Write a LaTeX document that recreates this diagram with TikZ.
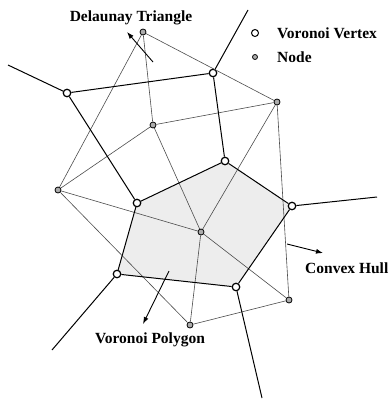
\documentclass[tikz,border=0pt]{standalone}
\usepackage{fontspec}
\setmainfont{Liberation Serif}
\usetikzlibrary{backgrounds, arrows.meta}

\tikzset{
  vvertex/.style={circle, draw, line width=1.2pt, fill=white, inner sep=0pt, minimum size=7.5pt},
  site/.style={circle, draw, line width=0.8pt, fill=gray!65, inner sep=0pt, minimum size=6pt},
  voronoi/.style={line width=1pt},
  delaunay/.style={line width=0.6pt, black!70},
  label/.style={font=\fontsize{15.5}{18}\selectfont\bfseries, inner sep=0pt},
  pointer/.style={-{Latex[length=7pt, width=5pt]}, line width=0.9pt}
}

\begin{document}
\begin{tikzpicture}[x=1pt, y=-1pt]
  \useasboundingbox (0,0) rectangle (391,399);

  % Nodes
  \node[site] (n1) at (143,32) {};
  \node[site] (n2) at (277,102) {};
  \node[site] (n3) at (153,125) {};
  \node[site] (n4) at (58,190) {};
  \node[site] (n5) at (201,232) {};
  \node[site] (n6) at (190,325) {};
  \node[site] (n7) at (289,300) {};

  \node[vvertex] (v1) at (213,73) {};
  \node[vvertex] (v2) at (67,93) {};
  \node[vvertex] (v3) at (225,161) {};
  \node[vvertex] (v4) at (137,203) {};
  \node[vvertex] (v5) at (292,206) {};
  \node[vvertex] (v6) at (117,274) {};
  \node[vvertex] (v7) at (236,287) {};

  \coordinate (r1) at (248,10);
  \coordinate (r2) at (8,65);
  \coordinate (r5) at (377,197);
  \coordinate (r6) at (52,350);
  \coordinate (r7) at (262,398);

  % Labels
  \node[label] (delaunay) at (131,18) {Delaunay Triangle};
  \node[vvertex, minimum size=7pt, line width=1pt] (keyvertex) at (255,33) {};
  \node[label, anchor=west] (keyvertextext) at (277,33) {Voronoi Vertex};
  \node[site, minimum size=5pt] (keynode) at (255,57) {};
  \node[label, anchor=west] (keynodetext) at (277,57) {Node};
  \node[label, anchor=west] (hull) at (305,268) {Convex Hull};
  \node[label] (polygon) at (150,340) {Voronoi Polygon};

  \coordinate (dt-tail) at (153,62);
  \coordinate (dt-tip) at (127,32);
  \coordinate (ch-tail) at (287,244);
  \coordinate (ch-tip) at (323,253);
  \coordinate (vp-tail) at (169,271);
  \coordinate (vp-tip) at (143,324);

  % Shaded cell
  \begin{scope}[on background layer]
    \fill[black!7] (v4.center) -- (v3.center) -- (v5.center) -- (v7.center) -- (v6.center) -- cycle;
  \end{scope}

  % Delaunay edges
  \draw[delaunay] (n1) -- (n2);
  \draw[delaunay] (n1) -- (n3);
  \draw[delaunay] (n1) -- (n4);
  \draw[delaunay] (n2) -- (n3);
  \draw[delaunay] (n2) -- (n5);
  \draw[delaunay] (n2) -- (n7);
  \draw[delaunay] (n3) -- (n4);
  \draw[delaunay] (n3) -- (n5);
  \draw[delaunay] (n4) -- (n5);
  \draw[delaunay] (n4) -- (n6);
  \draw[delaunay] (n5) -- (n6);
  \draw[delaunay] (n5) -- (n7);
  \draw[delaunay] (n6) -- (n7);

  % Voronoi edges
  \draw[voronoi] (v1) -- (r1);
  \draw[voronoi] (v2) -- (r2);
  \draw[voronoi] (v2) -- (v1);
  \draw[voronoi] (v2) -- (v4);
  \draw[voronoi] (v1) -- (v3);
  \draw[voronoi] (v3) -- (v4);
  \draw[voronoi] (v3) -- (v5);
  \draw[voronoi] (v5) -- (r5);
  \draw[voronoi] (v5) -- (v7);
  \draw[voronoi] (v7) -- (r7);
  \draw[voronoi] (v7) -- (v6);
  \draw[voronoi] (v6) -- (v4);
  \draw[voronoi] (v6) -- (r6);

  % Pointers
  \draw[pointer] (dt-tail) -- (dt-tip);
  \draw[pointer] (ch-tail) -- (ch-tip);
  \draw[pointer] (vp-tail) -- (vp-tip);
\end{tikzpicture}
\end{document}
